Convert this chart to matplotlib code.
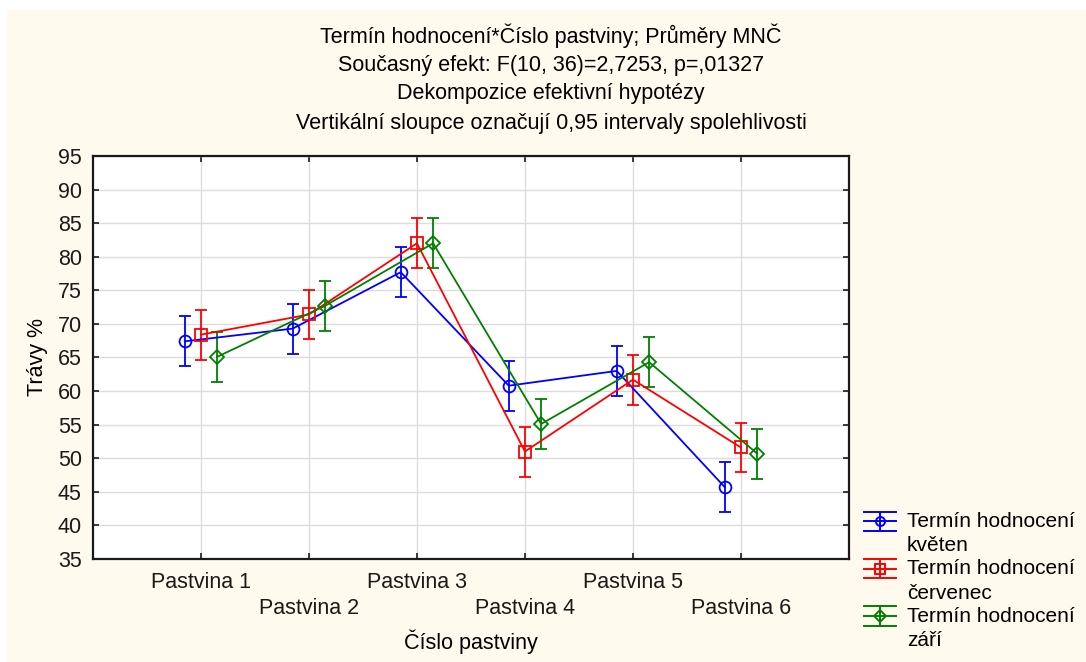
#!/usr/bin/env python
# -*- coding: utf-8 -*-
import numpy as np
import matplotlib
matplotlib.use("Agg")
import matplotlib.pyplot as plt
from matplotlib.legend_handler import HandlerBase
from matplotlib.lines import Line2D

plt.rcParams['font.family'] = ['Liberation Sans', 'DejaVu Sans']

# data (means and 0.95 CI half width)
pastviny = ["Pastvina 1", "Pastvina 2", "Pastvina 3", "Pastvina 4", "Pastvina 5", "Pastvina 6"]
kveten = [67.4, 69.3, 77.7, 60.8, 63.0, 45.7]
cervenec = [68.4, 71.4, 82.0, 51.0, 61.7, 51.6]
zari = [65.1, 72.7, 82.0, 55.1, 64.3, 50.7]
ci_half = [3.72, 3.72, 3.72, 3.72, 3.72, 3.72]

serie = [
    ("Termín hodnocení\nkvěten", kveten, "#0000ff", "o", -0.15),
    ("Termín hodnocení\nčervenec", cervenec, "#ff0000", "s", 0.0),
    ("Termín hodnocení\nzáří", zari, "#008000", "D", 0.15),
]

FS = 15.5


class HandlerCI(HandlerBase):
    # legend symbol like the statistica one: line + marker, caps across full width,
    # sitting on the first line of the two-line label
    def create_artists(self, legend, orig, xd, yd, width, height, fontsize, trans):
        col = orig.get_color()
        mk = orig.get_marker()
        cy = height / 2 - yd + 9
        dy = 7
        arts = []
        for yy in (cy - dy, cy, cy + dy):
            arts.append(Line2D([-xd, -xd + width], [yy, yy], color=col, lw=1.4))
        cx = -xd + width / 2
        arts.append(Line2D([cx, cx], [cy - dy, cy + dy], color=col, lw=1.4))
        arts.append(Line2D([cx], [cy], marker=mk, markersize=6.5, markerfacecolor="none",
                           markeredgecolor=col, markeredgewidth=1.4, lw=0))
        for a in arts:
            a.set_transform(trans)
        return arts


fig = plt.figure(figsize=(10.86, 6.62), dpi=100)
fig.patch.set_facecolor("white")
# cream background panel
fig.patches.append(matplotlib.patches.Rectangle((7/1086, 0), 1 - 7/1086, 1 - 10/662,
                                                transform=fig.transFigure, facecolor="#fff9ee",
                                                edgecolor="none", zorder=-10))

ax = fig.add_axes([0.0856, 0.1556, 0.6961, 0.6088])
ax.set_facecolor("white")

x = np.arange(1, len(pastviny) + 1)
handles = []
for label, vals, col, mk, off in serie:
    ms = 7.5 if mk == "D" else 8.5
    ax.errorbar(x + off, vals, yerr=ci_half, color=col, marker=mk, markersize=ms,
                markerfacecolor="none", markeredgecolor=col, markeredgewidth=1.3,
                linewidth=1.3, elinewidth=1.3, capsize=4, capthick=1.3)
    handles.append(Line2D([], [], color=col, marker=mk, label=label))

ax.set_xlim(0, 7)
ax.set_ylim(35, 95)
ax.set_yticks(np.arange(35, 96, 5))
ax.set_xticks(x)
ax.set_xticklabels(pastviny)
ax.grid(True, color="#dcdcdc", linewidth=1.0)
ax.set_axisbelow(True)

for s in ax.spines.values():
    s.set_color("#1a1a1a")
    s.set_linewidth(1.6)

ax.tick_params(axis="both", direction="in", length=4, width=1.2, labelsize=FS,
               top=True, right=True, colors="#1a1a1a")
ax.tick_params(axis="y", pad=8)
for i, t in enumerate(ax.xaxis.get_major_ticks()):
    t.set_pad(9.5 if i % 2 == 0 else 28)

ax.set_ylabel("Trávy %", fontsize=FS, labelpad=7)
fig.text(471/1086, 1 - 642/662, "Číslo pastviny", ha="center", va="center", fontsize=FS)

titulek = ["Termín hodnocení*Číslo pastviny; Průměry MNČ",
           "Současný efekt: F(10, 36)=2,7253, p=,01327",
           "Dekompozice efektivní hypotézy",
           "Vertikální sloupce označují 0,95 intervaly spolehlivosti"]
for i, line in enumerate(titulek):
    fig.text(551/1086, 1 - (36 + i * 29)/662, line, ha="center", va="center", fontsize=FS)

leg = fig.legend(handles=handles, loc="upper left", bbox_to_anchor=(864/1086, 1 - 512/662),
                 frameon=False, fontsize=15, handlelength=1.55, handletextpad=0.5,
                 labelspacing=0.2, borderaxespad=0, borderpad=0,
                 handler_map={Line2D: HandlerCI()})
for t in leg.get_texts():
    t.set_linespacing(1.35)

fig.savefig("out.png", dpi=100, facecolor=fig.get_facecolor())
